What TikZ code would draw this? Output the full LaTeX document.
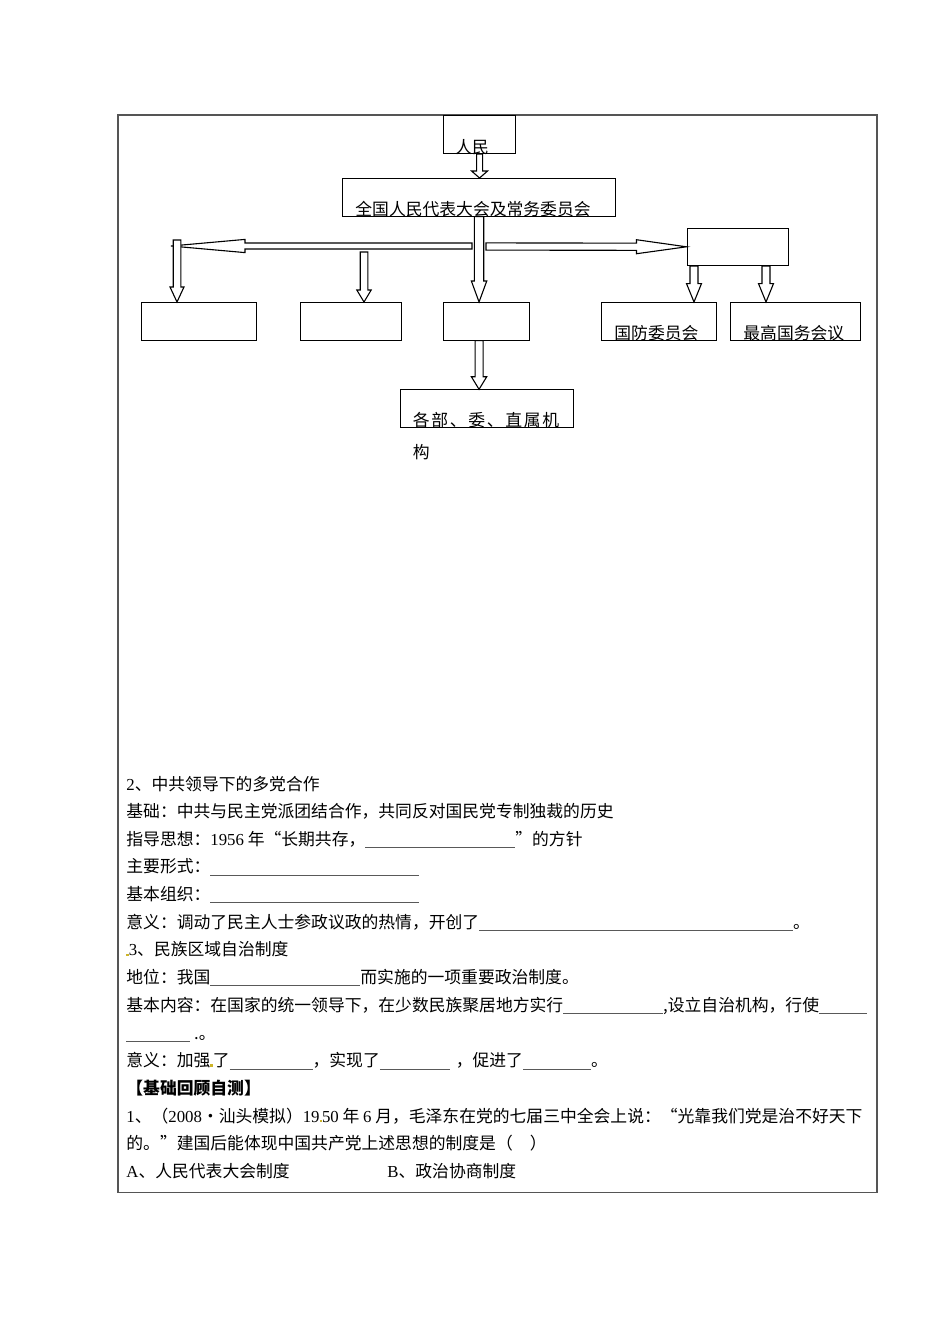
\documentclass[tikz,border=0pt]{standalone}
\usepackage{fontspec}
\setmainfont{Noto Sans CJK SC}
\newfontfamily\lat{Liberation Serif}
\usetikzlibrary{calc}
\definecolor{framegray}{RGB}{85,85,85}
\definecolor{markyellow}{RGB}{205,180,40}
\newcommand\bodyfont{\fontsize{8.4pt}{10pt}\selectfont}
\newcommand\blank[1]{\textcolor{black!65}{\rule[-1.2pt]{#1}{0.3pt}}}
\newcommand\dotmark{\textcolor{markyellow}{\rule{1.2pt}{1.2pt}}}
% hollow block arrow: from, tip, shaft half width, head half width, head length
\newcommand\hollowarrow[5]{%
  \coordinate (ha) at ($(#2)!#5!(#1)$);
  \draw[arrowline] ($(#1)!#3!90:(#2)$) -- ($(ha)!#3!90:(#2)$)
    -- ($(ha)!#4!90:(#2)$) -- (#2) -- ($(ha)!#4!-90:(#2)$)
    -- ($(ha)!#3!-90:(#2)$) -- ($(#1)!#3!-90:(#2)$) -- cycle;}
\tikzset{
  box/.style={draw, line width=0.55pt, inner sep=0pt, anchor=north west,
    minimum height=18.75pt},
  lbl/.style={anchor=base west, inner sep=0pt, font=\bodyfont},
  arrowline/.style={draw=black, fill=white, line width=0.55pt, line join=miter},
}
\begin{document}
\begin{tikzpicture}[x=0.5pt, y=-0.5pt]
  \useasboundingbox (0,0) rectangle (950,1344);
  \draw[framegray, line width=0.6pt] (118,115) rectangle (877,1192.5);

  % organisation chart
  \node[box, minimum width=36pt, minimum height=19pt] (people) at (443,115) {};
  \node[box, minimum width=136.5pt] (npc) at (342,178) {};
  \node[box, minimum width=50.5pt] (chair) at (686.5,227.5) {};
  \node[box, minimum width=57.5pt] (org1) at (141,302) {};
  \node[box, minimum width=50.5pt] (org2) at (299.5,302) {};
  \node[box, minimum width=43pt] (council) at (443,302) {};
  \node[box, minimum width=57.5pt] (defense) at (601,302) {};
  \node[box, minimum width=65pt] (supreme) at (729.5,302) {};
  \node[box, minimum width=86.5pt] (ministries) at (399.5,389.3) {};

  \node[lbl] (t-people) at ([xshift=6pt, yshift=0.5pt]people.south west) {人民};
  \node[lbl] (t-npc) at ([xshift=6.5pt, yshift=0.5pt]npc.south west)
    {全国人民代表大会及常务委员会};
  \node[lbl] (t-defense) at ([xshift=6.5pt, yshift=0.5pt]defense.south west)
    {国防委员会};
  \node[lbl] (t-supreme) at ([xshift=6.75pt, yshift=0.5pt]supreme.south west)
    {最高国务会议};
  \node[lbl, font=\bodyfont\addfontfeature{LetterSpace=10}] (t-min)
    at ([xshift=6.5pt, yshift=0.5pt]ministries.south west) {各部、委、直属机};
  \node[lbl] (t-min2) at ([yshift=-16pt]t-min.base west) {构};

  \coordinate (lstart) at (472,246);
  \coordinate (ltip) at (171,246);
  \coordinate (rstart) at (486,246.5);
  \coordinate (org1top) at (177,240);
  \coordinate (org2top) at (364,252);
  \coordinate (deftop) at (694,0 |- chair.south);
  \coordinate (suptop) at (766,0 |- chair.south);

  \hollowarrow{people.south}{people.south |- npc.north}{1.5pt}{4pt}{3.5pt}
  \hollowarrow{npc.south}{npc.south |- council.north}{2.35pt}{3.85pt}{10.5pt}
  \hollowarrow{lstart}{ltip}{1.5pt}{3.3pt}{37pt}
  \hollowarrow{rstart}{chair.west}{1.8pt}{3.5pt}{25pt}
  \hollowarrow{org1top}{org1top |- org1.north}{1.9pt}{3.5pt}{7.5pt}
  \hollowarrow{org2top}{org2top |- org2.north}{1.9pt}{3.6pt}{6pt}
  \hollowarrow{deftop}{deftop |- defense.north}{2pt}{3.75pt}{9.2pt}
  \hollowarrow{suptop}{suptop |- supreme.north}{2pt}{3.75pt}{9.2pt}
  \hollowarrow{npc.south |- council.south}{npc.south |- ministries.north}{2pt}{3.85pt}{6.3pt}

  % text lines
  \node[lbl] (l1) at (126,790) {{\lat 2}、中共领导下的多党合作};
  \node[lbl] (l2) at (126,817.4) {基础：中共与民主党派团结合作，共同反对国民党专制独裁的历史};
  \node[lbl] (l3) at (126,845.1) {指导思想：{\lat 1956} 年“长期共存，\blank{75pt}”的方针};
  \node[lbl] (l4) at (126,872.8) {主要形式：\blank{104.5pt}};
  \node[lbl] (l5) at (126,900.5) {基本组织：\blank{104.5pt}};
  \node[lbl] (l6) at (126,928.2) {意义：调动了民主人士参政议政的热情，开创了\blank{157pt}。};
  \node[lbl] (l7) at (126,955.9) {\dotmark{\lat 3}、民族区域自治制度};
  \node[lbl] (l8) at (126,983.6) {地位：我国\blank{75pt}而实施的一项重要政治制度。};
  \node[lbl] (l9) at (126,1011.3)
    {基本内容：在国家的统一领导下，在少数民族聚居地方实行\blank{50pt},设立自治机构，行使\blank{24pt}};
  \node[lbl] (l10) at (126,1039) {\blank{32pt}\ .。};
  \node[lbl] (l11) at (126,1066.7)
    {意义：加强\dotmark 了\blank{41.5pt}，实现了\blank{35pt}\hspace{3pt}，促进了\blank{34pt}。};
  \node[lbl, font=\bodyfont\bfseries] (l12) at (126,1094.4) {【基础回顾自测】};
  \node[lbl] (l13) at (126,1122.1)
    {{\lat 1}、（{\lat 2008}·汕头模拟）{\lat 19\dotmark 50} 年 {\lat 6} 月，毛泽东在党的七届三中全会上说：“光靠我们党是治不好天下};
  \node[lbl] (l14) at (126,1149.8) {的。”建国后能体现中国共产党上述思想的制度是（\hspace{8.5pt}）};
  \node[lbl] (optA) at (126,1177.5) {{\lat A}、人民代表大会制度};
  \node[lbl] (optB) at (387,1177.5) {{\lat B}、政治协商制度};
\end{tikzpicture}
\end{document}
